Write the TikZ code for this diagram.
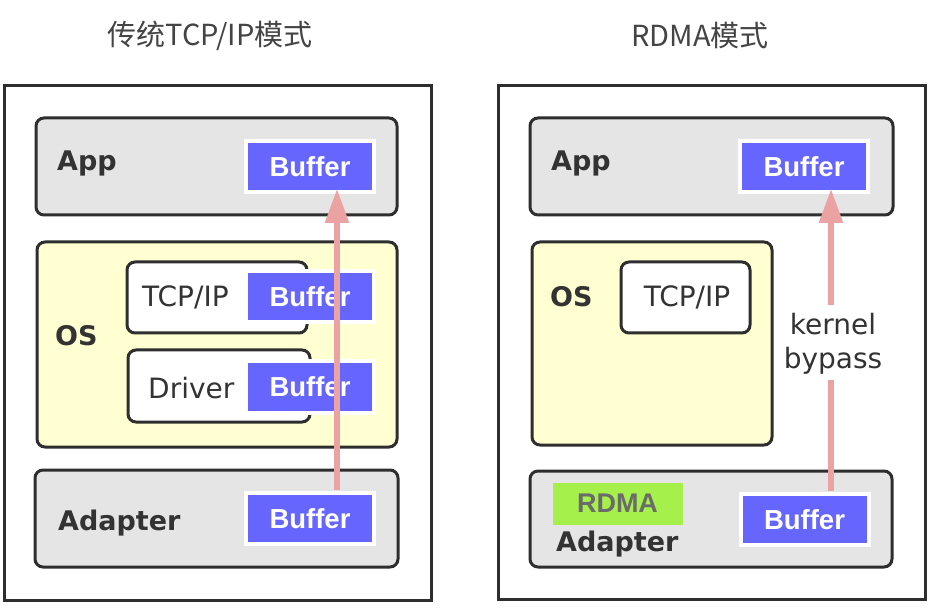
\documentclass[tikz,border=0pt]{standalone}
\usepackage{fontspec}
\setmainfont{DejaVu Sans}
\newfontfamily\bufffont{Liberation Sans}
\newfontfamily\cjk{Noto Sans CJK SC}
\usetikzlibrary{arrows.meta}
\definecolor{bord}{HTML}{2E2E2E}
\definecolor{lgray}{HTML}{E5E5E5}
\definecolor{lyel}{HTML}{FFFFD2}
\definecolor{bblue}{HTML}{6666FF}
\definecolor{pinkc}{HTML}{EBA2A2}
\definecolor{rgreen}{HTML}{A6F04C}
\definecolor{txt}{HTML}{333333}
\definecolor{ttl}{HTML}{444444}
\begin{document}
\begin{tikzpicture}[x=1pt,y=-1pt,
  panel/.style={draw=bord,line width=3pt,inner sep=0pt},
  layer/.style={draw=bord,line width=3pt,rounded corners=8pt,fill=lgray,inner sep=0pt},
  oslayer/.style={layer,fill=lyel},
  inbox/.style={draw=bord,line width=3pt,rounded corners=8pt,fill=white,inner sep=0pt},
  buf/.style={draw=white,line width=4pt,fill=bblue,inner sep=0pt,minimum width=128pt,minimum height=51pt,
     text=white,font=\bufffont\bfseries\fontsize{27.5}{30}\selectfont},
  blabel/.style={inner sep=0pt,anchor=base west,text=txt,font=\bfseries\fontsize{27}{32}\selectfont},
  rlabel/.style={inner sep=0pt,text=txt,font=\fontsize{28}{33}\selectfont},
  title/.style={inner sep=0pt,text=ttl,font=\cjk\fontsize{29}{34}\selectfont},
  pinkline/.style={draw=pinkc,line width=5.5pt},
  pinkarrow/.style={pinkline,-{Triangle[width=23pt,length=34pt]}}
]
\useasboundingbox (0,0) rectangle (934,609);
\fill[white] (0,0) rectangle (934,609);

% titles
\node[title] (t1) at (210,36) {传统TCP/IP模式};
\node[title] (t2) at (700,36) {RDMA模式};

% ---------- left panel ----------
\node[panel,minimum width=427pt,minimum height=514pt] (lpanel) at (217.5,343) {};
\node[layer,minimum width=361pt,minimum height=97pt] (lapp) at (216.5,166.5) {};
\node[blabel] (lapptxt) at (57,171) {App};
\node[buf] (lappbuf) at (310,166.5) {Buffer};

\node[oslayer,minimum width=360pt,minimum height=205pt] (los) at (217,344.5) {};
\node[blabel] (lostxt) at (55,345) {OS};
\node[inbox,minimum width=180pt,minimum height=71pt] (ltcp) at (217,297.5) {};
\node[rlabel,anchor=base west] (ltcptxt) at (142,307) {TCP/IP};
\node[buf] (ltcpbuf) at (310,296.5) {Buffer};
\node[inbox,minimum width=182pt,minimum height=72pt] (ldrv) at (219,386) {};
\node[rlabel,anchor=base west] (ldrvtxt) at (148,398) {Driver};
\node[buf] (ldrvbuf) at (310,387) {Buffer};

\node[layer,minimum width=363pt,minimum height=97pt] (lad) at (216.5,518.5) {};
\node[blabel] (ladtxt) at (58,530) {Adapter};
\node[buf] (ladbuf) at (310,518.5) {Buffer};

\coordinate (la0) at (337,490);
\coordinate (la1) at (337,189);
\draw[pinkarrow] (la0) -- (la1);

% ---------- right panel ----------
\node[panel,minimum width=427pt,minimum height=513pt] (rpanel) at (711.5,342.5) {};
\node[layer,minimum width=363pt,minimum height=97pt] (rapp) at (711.5,166.5) {};
\node[blabel] (rapptxt) at (551,171) {App};
\node[buf] (rappbuf) at (804,166.5) {Buffer};

\node[oslayer,minimum width=240pt,minimum height=203pt] (ros) at (652,343.5) {};
\node[blabel] (rostxt) at (550,307) {OS};
\node[inbox,minimum width=129pt,minimum height=71pt] (rtcp) at (685.5,297.5) {};
\node[rlabel,anchor=base] (rtcptxt) at (687,307) {TCP/IP};

\node[layer,minimum width=362pt,minimum height=96pt] (rad) at (711,519) {};
\node[fill=rgreen,inner sep=0pt,minimum width=130pt,minimum height=42pt] (rdma) at (618,504) {};
\node[inner sep=0pt,anchor=base,text=black!58,font=\bufffont\bfseries\fontsize{27}{30}\selectfont] (rdmatxt) at (617.5,512) {RDMA};
\node[blabel] (radtxt) at (556,551) {Adapter};
\node[buf] (radbuf) at (804.5,519.5) {Buffer};

\node[rlabel,anchor=base] (kb1) at (833,335) {kernel};
\node[rlabel,anchor=base] (kb2) at (833,368) {bypass};

\coordinate (ra0) at (831,491);
\coordinate (ra1) at (831,380);
\coordinate (ra2) at (831,305);
\coordinate (ra3) at (831,189);
\draw[pinkline] (ra0) -- (ra1);
\draw[pinkarrow] (ra2) -- (ra3);
\end{tikzpicture}
\end{document}
